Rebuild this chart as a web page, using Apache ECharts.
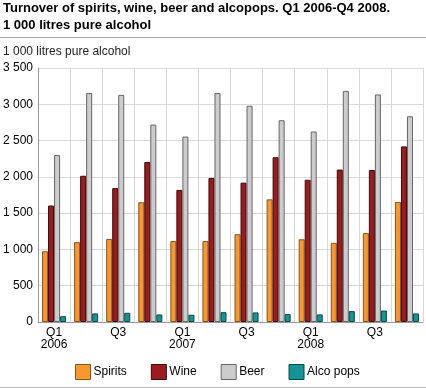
<!DOCTYPE html>
<html><head><meta charset="utf-8">
<script src="https://cdn.jsdelivr.net/npm/echarts@6/dist/echarts.min.js"></script>
<style>html,body{margin:0;padding:0;background:#fff}#c{width:426px;height:388px}</style>
</head><body><div id="c"></div>
<script>
const categories = ["Q1\n2006","Q2","Q3","Q4","Q1\n2007","Q2","Q3","Q4","Q1\n2008","Q2","Q3","Q4"];
const spirits = [975,1100,1145,1650,1115,1115,1210,1690,1140,1090,1225,1655];
const wine = [1605,2015,1845,2205,1820,1985,1920,2270,1960,2100,2095,2420];
const beer = [2300,3155,3130,2720,2555,3155,2980,2780,2625,3185,3135,2835];
const alcopops = [80,118,127,104,100,135,132,109,104,150,158,118];
const yTicks = [0,500,1000,1500,2000,2500,3000,3500];

const chart = echarts.init(document.getElementById('c'), null, {renderer:'canvas'});
const font = 'Arial, "Liberation Sans", sans-serif';
function fmt(v){ return String(v).replace(/\B(?=(\d{3})+(?!\d))/g,' '); }
function bar(name, data, color, border){
  return {name, type:'bar', data, barGap:'0%', barCategoryGap:'25%',
    itemStyle:{color, borderColor:border, borderWidth:1}};
}
chart.setOption({
  animation:false,
  textStyle:{fontFamily:font},
  title:{text:'Turnover of spirits, wine, beer and alcopops. Q1 2006-Q4 2008.\n1 000 litres pure alcohol',
    left:3, top:0, padding:0, textStyle:{fontSize:13, fontWeight:'bold', color:'#000', lineHeight:17, fontFamily:font}},
  graphic:[
    {type:'line', shape:{x1:0,y1:37.5,x2:426,y2:37.5}, style:{stroke:'#aaa', lineWidth:1}},
    {type:'line', shape:{x1:0,y1:387.5,x2:426,y2:387.5}, style:{stroke:'#bbb', lineWidth:1}},
    {type:'text', left:3, top:46, style:{text:'1 000 litres pure alcohol', fontSize:12, fill:'#222', fontFamily:font}}
  ],
  grid:{left:38, right:3, top:68, bottom:66},
  legend:{top:364, left:75, padding:0, itemWidth:15, itemHeight:15, itemGap:24, icon:'rect',
    itemStyle:{borderWidth:1},
    textStyle:{fontSize:12, color:'#000', fontFamily:font, padding:[0,0,0,-2]},
    data:['Spirits','Wine','Beer','Alco pops']},
  xAxis:{type:'category', data:categories,
    axisLine:{lineStyle:{color:'#999'}}, axisTick:{show:false},
    axisLabel:{interval:1, color:'#000', fontSize:12, lineHeight:12, margin:5},
    splitLine:{show:true, interval:0, lineStyle:{color:'#d9d9d9'}}},
  yAxis:{type:'value', min:0, max:3500, interval:500,
    axisLine:{show:true, lineStyle:{color:'#999'}},
    axisLabel:{color:'#000', fontSize:12, margin:5, formatter:v=>yTicks.includes(v)?fmt(v):''},
    splitLine:{lineStyle:{color:'#d9d9d9'}}},
  series:[
    bar('Spirits', spirits, '#f7982f', '#8a5418'),
    bar('Wine', wine, '#9b1b1f', '#3a0a0a'),
    bar('Beer', beer, '#cccccc', '#666666'),
    bar('Alco pops', alcopops, '#149494', '#0a4a4a')
  ]
});
</script></body></html>
